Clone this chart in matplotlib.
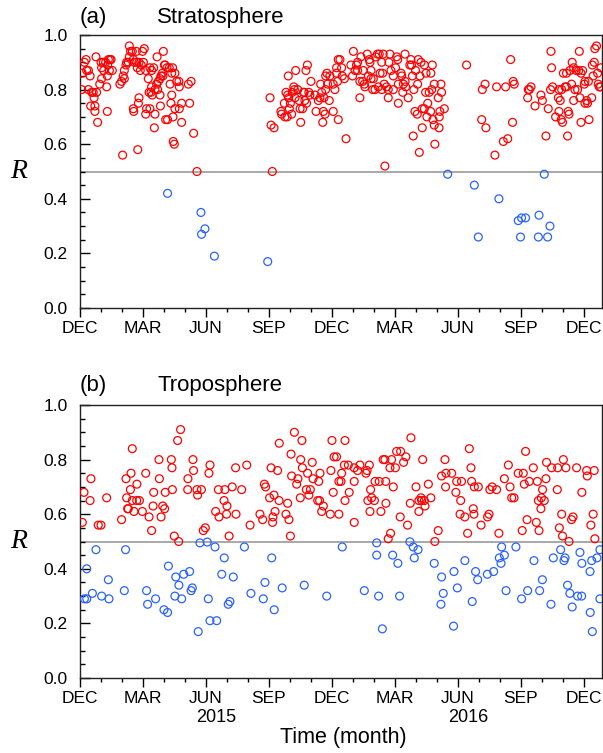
import numpy as np
import matplotlib
matplotlib.use('Agg')
import matplotlib.pyplot as plt
import matplotlib.transforms as mtransforms

plt.rcParams['font.family'] = ['Liberation Sans', 'DejaVu Sans']

# time axis: months since start of Dec 2014
month_labels = ['DEC', 'MAR', 'JUN', 'SEP', 'DEC', 'MAR', 'JUN', 'SEP', 'DEC']
year_labels = ['2015', '2016']
year_pos = [6.5, 18.5]

# (time, R) pairs
strat_red = np.array([
    [0.21, 0.90], [0.29, 0.91], [0.11, 0.86], [0.32, 0.87], [0.40, 0.87], [0.48, 0.85],
    [0.08, 0.80], [0.40, 0.80], [0.56, 0.79], [0.63, 0.79], [0.79, 0.79], [0.67, 0.77],
    [0.71, 0.74], [0.51, 0.74], [0.71, 0.72], [0.84, 0.68], [0.76, 0.92], [1.00, 0.90],
    [1.03, 0.88], [1.11, 0.90], [1.22, 0.90], [1.35, 0.91], [1.43, 0.91], [1.48, 0.91],
    [1.32, 0.89], [1.13, 0.87], [1.40, 0.87], [1.54, 0.87], [1.30, 0.85], [1.03, 0.84],
    [0.94, 0.82], [1.27, 0.81], [1.30, 0.72], [1.90, 0.82], [1.98, 0.83], [2.11, 0.84],
    [2.06, 0.85], [2.11, 0.87], [2.19, 0.89], [2.22, 0.90], [2.30, 0.90], [2.35, 0.96],
    [2.41, 0.94], [2.35, 0.92], [2.49, 0.94], [2.54, 0.91], [2.70, 0.90], [2.59, 0.90],
    [2.68, 0.94], [2.73, 0.88], [2.81, 0.90], [2.87, 0.87], [2.92, 0.89], [3.02, 0.90],
    [2.98, 0.94], [3.06, 0.95], [3.13, 0.87], [3.25, 0.84], [3.33, 0.88], [3.41, 0.87],
    [3.51, 0.88], [3.67, 0.92], [3.97, 0.94], [4.02, 0.89], [4.05, 0.89], [4.14, 0.88],
    [4.25, 0.88], [4.37, 0.86], [4.52, 0.86], [4.41, 0.88], [3.92, 0.86], [3.86, 0.85],
    [3.95, 0.85], [3.81, 0.84], [3.73, 0.83], [3.65, 0.82], [3.57, 0.80], [3.41, 0.81],
    [3.29, 0.79], [3.38, 0.79], [3.44, 0.78], [3.70, 0.80], [3.81, 0.78], [4.37, 0.78],
    [4.33, 0.75], [4.52, 0.73], [4.84, 0.75], [4.73, 0.73], [4.60, 0.83], [4.71, 0.83],
    [4.73, 0.81], [4.29, 0.82], [5.16, 0.82], [5.29, 0.83], [5.22, 0.75], [3.33, 0.73],
    [3.17, 0.73], [3.13, 0.71], [3.57, 0.71], [3.54, 0.66], [3.83, 0.74], [4.08, 0.69],
    [4.17, 0.69], [4.43, 0.70], [4.84, 0.68], [2.81, 0.77], [2.78, 0.75], [2.54, 0.73],
    [2.56, 0.72], [2.03, 0.56], [2.75, 0.58], [4.44, 0.61], [4.49, 0.60], [5.41, 0.64],
    [5.57, 0.50],
    [9.05, 0.77], [9.10, 0.67], [9.24, 0.66], [9.16, 0.50], [9.92, 0.85], [10.27, 0.87],
    [10.76, 0.87], [10.83, 0.89], [11.00, 0.83], [10.18, 0.81], [10.37, 0.80], [9.81, 0.79],
    [10.11, 0.79], [10.21, 0.80], [9.89, 0.78], [9.94, 0.77], [9.73, 0.75], [10.02, 0.75],
    [10.24, 0.77], [10.43, 0.76], [10.64, 0.79], [10.68, 0.79], [10.71, 0.76], [10.90, 0.79],
    [10.95, 0.78], [10.79, 0.75], [10.60, 0.73], [10.48, 0.73], [9.97, 0.73], [9.57, 0.72],
    [9.60, 0.71], [9.76, 0.70], [9.87, 0.70], [10.08, 0.71], [10.51, 0.68], [11.24, 0.72],
    [11.59, 0.72], [11.67, 0.71], [11.56, 0.68], [12.06, 0.72], [12.30, 0.69], [11.19, 0.78],
    [11.35, 0.76], [11.43, 0.77], [11.51, 0.79], [11.62, 0.77], [11.87, 0.76], [11.46, 0.82],
    [11.70, 0.85], [11.76, 0.86], [11.90, 0.85], [11.79, 0.82], [11.70, 0.80], [12.06, 0.82],
    [12.14, 0.80], [12.22, 0.86], [12.27, 0.83], [12.22, 0.88], [12.30, 0.91],
    [12.38, 0.91], [12.46, 0.88], [12.49, 0.85], [12.59, 0.84], [12.67, 0.62], [12.90, 0.89],
    [13.02, 0.94], [12.98, 0.85], [13.17, 0.89], [13.22, 0.90], [13.10, 0.87], [13.22, 0.87],
    [13.33, 0.77], [13.33, 0.83], [13.38, 0.92], [13.49, 0.87], [13.46, 0.83], [13.54, 0.82],
    [13.57, 0.81], [13.68, 0.93], [13.78, 0.91], [13.81, 0.90], [13.86, 0.87], [13.73, 0.85],
    [13.86, 0.84], [13.97, 0.84], [13.94, 0.80], [14.05, 0.80], [14.08, 0.92], [14.17, 0.93],
    [14.25, 0.93], [14.44, 0.93], [14.37, 0.90], [14.29, 0.86], [14.41, 0.86], [14.21, 0.81],
    [14.37, 0.80], [14.49, 0.82], [14.60, 0.81], [14.68, 0.80], [14.68, 0.77], [14.52, 0.52],
    [14.71, 0.90], [14.76, 0.93], [14.81, 0.87], [14.92, 0.85], [15.03, 0.88], [15.08, 0.92],
    [15.13, 0.91], [14.92, 0.80], [15.16, 0.82], [15.29, 0.86], [15.32, 0.85], [15.40, 0.82],
    [15.48, 0.83], [15.51, 0.81], [15.16, 0.75], [15.37, 0.79], [15.48, 0.93], [15.63, 0.77],
    [15.71, 0.89], [15.79, 0.89], [15.76, 0.91], [15.83, 0.85], [15.98, 0.87], [15.90, 0.80],
    [16.08, 0.82], [16.11, 0.91], [16.24, 0.90], [16.19, 0.85], [16.40, 0.89], [16.48, 0.86],
    [16.71, 0.86], [16.78, 0.89], [15.95, 0.72], [16.06, 0.71], [16.30, 0.73], [16.40, 0.73],
    [16.56, 0.75], [16.46, 0.79], [16.63, 0.79], [16.75, 0.80], [16.87, 0.82], [17.19, 0.82],
    [17.22, 0.79], [17.06, 0.77], [16.70, 0.72], [16.52, 0.70], [16.81, 0.69], [16.87, 0.67],
    [17.11, 0.70], [17.35, 0.73], [17.14, 0.72], [17.10, 0.66], [16.30, 0.66], [15.87, 0.63],
    [16.90, 0.60], [16.16, 0.57], [18.41, 0.89],
    [19.16, 0.80], [19.29, 0.82], [19.13, 0.69], [19.33, 0.66], [19.76, 0.56], [20.16, 0.61],
    [20.37, 0.62], [19.84, 0.81], [20.27, 0.81], [20.51, 0.91], [20.63, 0.83], [20.68, 0.82],
    [20.60, 0.68], [21.35, 0.80], [21.40, 0.80], [21.48, 0.81], [21.32, 0.77], [21.67, 0.74],
    [21.95, 0.78], [22.02, 0.76], [22.30, 0.73], [22.19, 0.63], [22.43, 0.94], [22.46, 0.88],
    [22.41, 0.80], [22.51, 0.81], [22.78, 0.77], [22.87, 0.76], [22.81, 0.80], [22.94, 0.80],
    [23.10, 0.81], [23.17, 0.81], [22.81, 0.72], [22.65, 0.70], [22.92, 0.69], [22.98, 0.68],
    [23.25, 0.72], [23.29, 0.71], [23.22, 0.63], [23.02, 0.86], [23.17, 0.86], [23.33, 0.87],
    [23.44, 0.90], [23.51, 0.88], [23.41, 0.82], [23.57, 0.80], [23.70, 0.80], [23.51, 0.76],
    [23.81, 0.77], [23.63, 0.87], [23.75, 0.87], [23.86, 0.86], [23.94, 0.87], [23.78, 0.94],
    [24.02, 0.82], [24.05, 0.83], [24.21, 0.83], [23.86, 0.68], [24.24, 0.69], [24.05, 0.75],
    [24.17, 0.75], [24.13, 0.76], [24.37, 0.77], [24.44, 0.85], [24.40, 0.89], [24.49, 0.90],
    [24.52, 0.95], [24.60, 0.96], [24.65, 0.86], [24.68, 0.82], [24.73, 0.81], [24.81, 0.88],
    [24.79, 0.81],
])

strat_blue = np.array([
    [4.17, 0.42], [5.76, 0.35], [5.95, 0.29], [5.79, 0.27], [6.40, 0.19], [8.94, 0.17],
    [17.51, 0.49], [18.78, 0.45], [19.95, 0.40], [18.97, 0.26], [20.87, 0.32], [21.03, 0.33],
    [21.22, 0.33], [21.86, 0.34], [20.98, 0.26], [21.83, 0.26], [22.27, 0.26], [22.38, 0.30],
    [22.11, 0.49],
])

trop_red = np.array([
    [0.52, 0.73], [0.19, 0.68], [0.48, 0.65], [0.11, 0.57], [0.87, 0.56], [1.00, 0.56],
    [1.27, 0.66], [1.98, 0.58], [2.19, 0.73], [2.43, 0.75], [2.49, 0.84], [2.71, 0.71],
    [2.40, 0.69], [2.22, 0.66], [2.49, 0.65], [2.70, 0.65], [2.83, 0.65], [2.30, 0.62],
    [2.27, 0.62], [2.57, 0.61], [2.97, 0.61], [3.29, 0.59], [3.41, 0.54], [3.13, 0.75],
    [3.51, 0.68], [3.48, 0.63], [3.76, 0.80], [3.78, 0.73], [3.94, 0.63], [4.03, 0.62],
    [3.86, 0.59], [4.06, 0.68], [4.35, 0.80], [4.38, 0.77], [4.40, 0.69], [4.49, 0.52],
    [4.70, 0.50], [4.65, 0.87], [4.79, 0.91], [5.14, 0.73], [5.13, 0.69], [5.38, 0.80],
    [5.41, 0.76], [5.57, 0.69], [5.60, 0.67], [5.78, 0.69], [5.87, 0.54], [5.97, 0.55],
    [6.19, 0.78], [6.14, 0.75],
    [6.59, 0.69], [6.90, 0.69], [7.25, 0.70], [6.86, 0.65], [7.00, 0.63], [6.46, 0.61],
    [6.62, 0.59], [6.98, 0.60], [7.43, 0.60], [7.41, 0.77], [7.94, 0.78], [7.70, 0.69],
    [7.10, 0.52], [8.10, 0.56], [8.57, 0.60], [8.70, 0.58], [8.78, 0.71], [8.84, 0.70],
    [9.10, 0.77], [9.03, 0.66], [9.24, 0.67], [9.48, 0.65], [9.29, 0.61], [9.19, 0.59],
    [9.17, 0.57], [9.41, 0.76], [9.49, 0.86], [9.81, 0.60], [9.89, 0.64], [9.95, 0.58],
    [10.02, 0.52], [10.05, 0.82], [10.08, 0.74], [10.21, 0.90], [10.32, 0.71], [10.38, 0.73],
    [10.51, 0.80], [10.59, 0.77], [10.57, 0.87], [10.49, 0.66], [10.84, 0.75], [11.06, 0.79],
    [10.78, 0.69], [10.90, 0.67], [10.97, 0.69], [11.10, 0.73], [11.37, 0.72], [11.43, 0.75],
    [11.32, 0.65], [11.41, 0.65], [11.59, 0.63], [11.51, 0.61], [11.92, 0.60], [11.95, 0.76],
    [12.00, 0.87], [12.10, 0.81], [12.22, 0.81], [12.06, 0.68], [12.33, 0.72], [12.33, 0.60],
    [12.62, 0.87], [12.59, 0.78], [12.78, 0.78], [12.46, 0.75], [12.43, 0.72], [13.06, 0.77],
    [13.22, 0.76], [13.33, 0.78], [13.62, 0.75], [13.67, 0.76], [13.78, 0.78], [13.06, 0.72],
    [12.82, 0.68], [12.62, 0.65], [13.06, 0.57], [13.84, 0.69], [13.71, 0.65], [13.89, 0.66],
    [14.02, 0.65], [13.81, 0.61], [14.33, 0.61], [14.57, 0.64], [14.05, 0.72], [14.25, 0.72],
    [14.56, 0.72], [14.92, 0.70], [14.44, 0.80], [14.52, 0.80], [14.84, 0.80], [14.76, 0.77],
    [15.02, 0.77], [15.08, 0.83], [15.27, 0.83], [15.52, 0.81], [15.41, 0.79], [15.76, 0.88],
    [16.32, 0.80], [16.00, 0.70], [16.59, 0.71], [16.24, 0.66], [16.27, 0.65], [16.14, 0.65],
    [16.40, 0.65], [16.43, 0.63], [16.71, 0.66], [16.14, 0.61], [15.73, 0.64], [15.25, 0.59],
    [15.60, 0.56], [14.79, 0.53], [14.68, 0.51], [16.90, 0.50], [17.06, 0.54], [17.22, 0.74],
    [17.43, 0.75], [17.70, 0.75], [17.38, 0.80], [17.41, 0.70], [17.94, 0.72], [18.17, 0.72],
    [17.90, 0.68], [18.13, 0.65], [18.10, 0.60],
    [18.54, 0.84], [18.62, 0.77], [18.65, 0.72], [18.78, 0.70], [18.97, 0.70], [18.33, 0.59],
    [18.46, 0.53], [18.73, 0.62], [18.76, 0.60], [19.10, 0.56], [19.41, 0.59], [19.48, 0.60],
    [19.52, 0.69], [19.63, 0.70], [19.84, 0.69], [19.95, 0.53], [20.21, 0.73], [20.40, 0.78],
    [20.48, 0.70], [20.56, 0.66], [20.67, 0.66], [20.87, 0.75], [21.11, 0.75], [21.16, 0.71],
    [21.22, 0.83], [21.40, 0.72], [21.59, 0.77], [21.78, 0.72], [21.83, 0.65], [21.97, 0.66],
    [22.11, 0.65], [22.03, 0.69], [21.95, 0.62], [22.19, 0.73], [22.22, 0.79], [22.46, 0.77],
    [22.75, 0.77], [22.73, 0.69], [23.02, 0.80], [23.14, 0.77], [22.94, 0.60], [22.83, 0.55],
    [22.98, 0.52], [23.29, 0.50], [23.41, 0.58], [23.48, 0.59], [23.65, 0.77], [23.90, 0.68],
    [24.13, 0.76], [24.16, 0.74], [24.49, 0.76], [24.44, 0.60], [24.33, 0.56], [24.52, 0.51],
    [21.29, 0.58], [21.06, 0.54], [21.73, 0.57], [21.86, 0.54],
])

trop_blue = np.array([
    [0.76, 0.47], [2.17, 0.47], [0.32, 0.40], [0.21, 0.29], [0.32, 0.29], [0.59, 0.31],
    [1.03, 0.30], [1.38, 0.29], [1.35, 0.36], [2.11, 0.32], [3.17, 0.32], [3.22, 0.27],
    [3.60, 0.29], [4.00, 0.25], [4.17, 0.24], [4.21, 0.41], [4.56, 0.37], [4.94, 0.38],
    [5.22, 0.39], [4.71, 0.34], [5.35, 0.33], [5.29, 0.32], [4.52, 0.30], [4.84, 0.29],
    [5.71, 0.495], [6.06, 0.498], [5.63, 0.17], [6.11, 0.29], [6.19, 0.21], [6.43, 0.48],
    [6.87, 0.44], [7.83, 0.48], [9.13, 0.44], [6.75, 0.38], [7.30, 0.37], [6.51, 0.21],
    [7.06, 0.27], [7.14, 0.28], [8.14, 0.31], [8.73, 0.29], [8.81, 0.35], [9.25, 0.25],
    [9.63, 0.33], [10.68, 0.34], [11.75, 0.30], [12.49, 0.48], [14.13, 0.495], [14.13, 0.45],
    [14.89, 0.45], [15.14, 0.42], [15.71, 0.499], [15.87, 0.48], [16.10, 0.47], [15.92, 0.44],
    [16.87, 0.42], [17.22, 0.37], [17.81, 0.39], [13.54, 0.32], [14.22, 0.30], [15.22, 0.30],
    [17.30, 0.31], [17.97, 0.33], [17.19, 0.27], [14.40, 0.18], [17.79, 0.19], [18.33, 0.43],
    [18.68, 0.28], [18.84, 0.39], [18.94, 0.36], [19.40, 0.38], [19.70, 0.39], [19.97, 0.44],
    [20.05, 0.42], [20.21, 0.45], [20.08, 0.48], [20.76, 0.48], [20.29, 0.32], [21.03, 0.29],
    [21.32, 0.32], [21.62, 0.43], [21.89, 0.32], [22.02, 0.36], [22.43, 0.27], [22.54, 0.44],
    [22.89, 0.47], [23.05, 0.43], [23.10, 0.44], [23.22, 0.34], [23.33, 0.31], [23.44, 0.26],
    [23.70, 0.30], [23.89, 0.30], [23.81, 0.46], [23.90, 0.42], [24.29, 0.39], [24.37, 0.43],
    [24.62, 0.44], [24.76, 0.47], [24.30, 0.24], [24.40, 0.17], [24.76, 0.29],
])

RED = '#ff0000'
BLUE = '#2a62ff'
W, H = 603, 753

fig = plt.figure(figsize=(W / 100, H / 100), dpi=100)
ax1 = fig.add_axes([80 / W, 1 - 308 / H, 522 / W, 273 / H])
ax2 = fig.add_axes([80 / W, 1 - 678 / H, 522 / W, 273 / H])


def style_panel(ax, red, blue):
    ax.axhline(0.5, color='#9a9a9a', lw=1.2, zorder=1)
    ax.scatter(red[:, 0], red[:, 1], s=32, facecolors='none', edgecolors=RED,
               linewidths=0.9, zorder=3)
    ax.scatter(blue[:, 0], blue[:, 1], s=32, facecolors='none', edgecolors=BLUE,
               linewidths=0.9, zorder=3)
    ax.set_xlim(0, 24.86)
    ax.set_ylim(0, 1)
    ax.set_xticks(np.arange(0, 25, 3))
    ax.set_xticklabels(month_labels)
    ax.set_xticks(np.arange(0, 25, 1), minor=True)
    ax.set_yticks(np.arange(0, 1.01, 0.2))
    ax.set_yticklabels(['%.1f' % v for v in np.arange(0, 1.01, 0.2)])
    ax.set_yticks(np.arange(0, 1.01, 0.05), minor=True)
    ax.tick_params(axis='x', which='major', direction='out', length=6.5, width=1,
                   labelsize=12.5, pad=3)
    ax.tick_params(axis='x', which='minor', direction='out', length=3, width=1)
    ax.tick_params(axis='y', which='major', direction='in', length=7, width=1,
                   labelsize=12.5, pad=9)
    ax.tick_params(axis='y', which='minor', direction='in', length=3.5, width=1)
    for sp in ax.spines.values():
        sp.set_linewidth(1.0)
        sp.set_color('#222222')
    ax.set_ylabel('R', fontfamily='Liberation Serif', style='italic', fontsize=20,
                  rotation=0, va='center')
    ax.yaxis.set_label_coords(-0.118, 0.5)


style_panel(ax1, strat_red, strat_blue)
style_panel(ax2, trop_red, trop_blue)

# panel titles
fig.text(80 / W, 1 - 17 / H, '(a)', fontsize=16, va='center', ha='left')
fig.text(157 / W, 1 - 17 / H, 'Stratosphere', fontsize=16, va='center', ha='left')
fig.text(80 / W, 1 - 385 / H, '(b)', fontsize=16, va='center', ha='left')
fig.text(157 / W, 1 - 385 / H, 'Troposphere', fontsize=16, va='center', ha='left')

# year labels under the bottom panel
trans = mtransforms.blended_transform_factory(ax2.transData, ax2.transAxes)
for yp, yl in zip(year_pos, year_labels):
    ax2.text(yp, (678 - 717) / 273, yl, transform=trans, ha='center', va='center',
             fontsize=13)
fig.text(343 / W, 1 - 738 / H, 'Time (month)', ha='center', va='center', fontsize=15.5)

fig.savefig('out.png', dpi=100)
